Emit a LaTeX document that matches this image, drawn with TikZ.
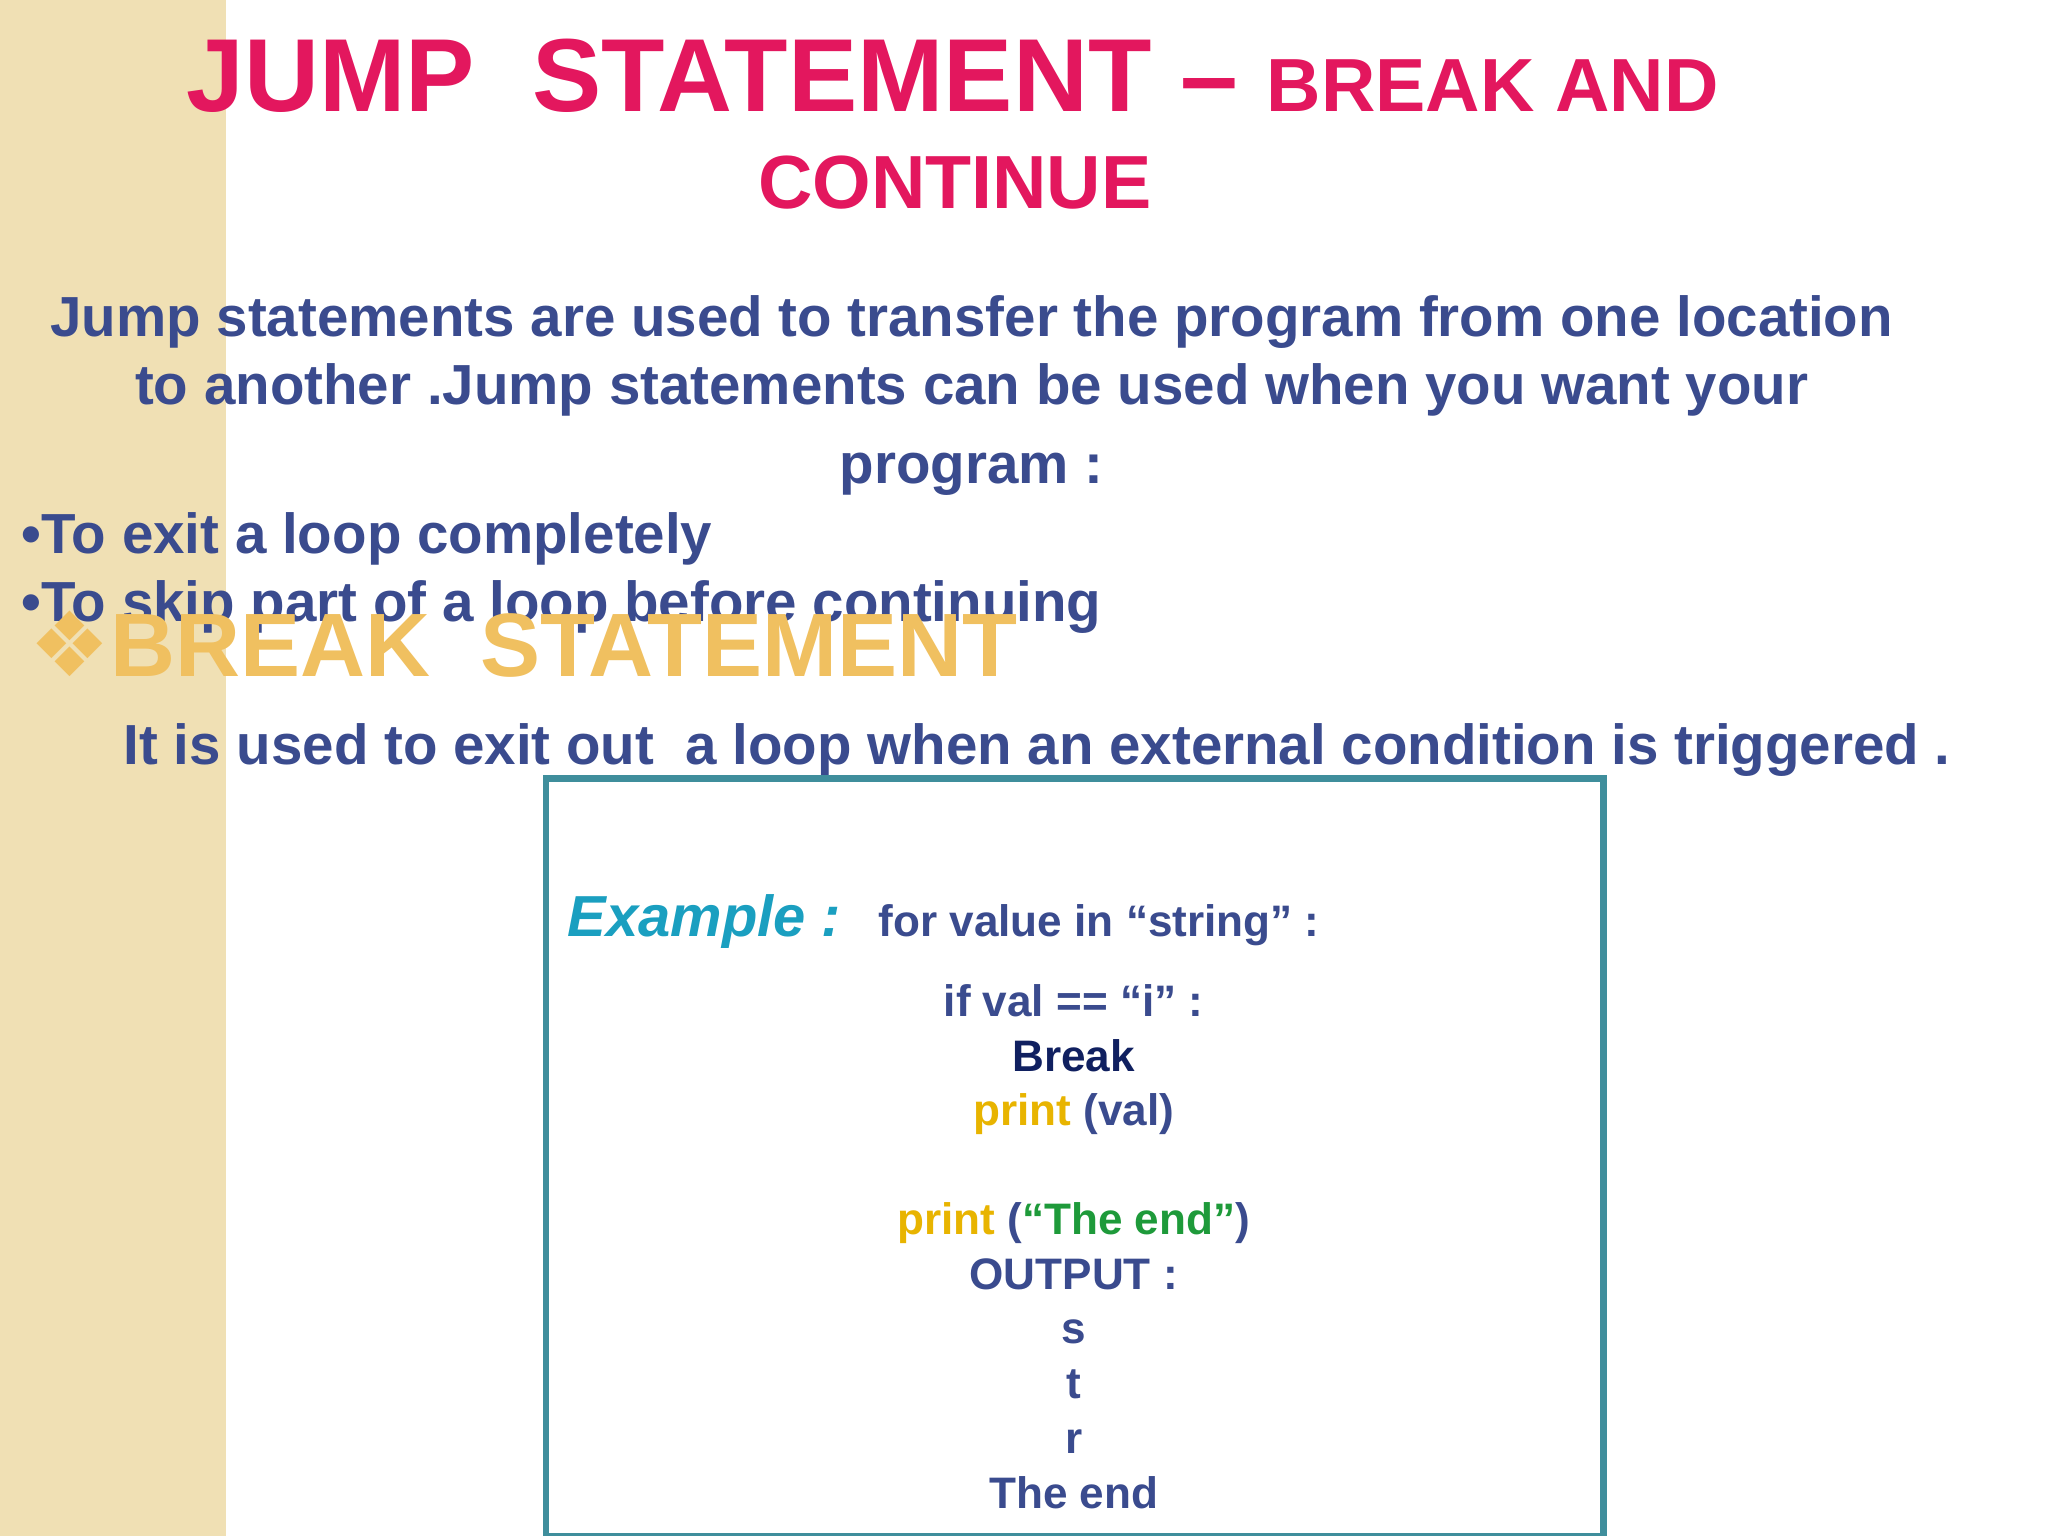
\documentclass[tikz,border=0pt]{standalone}
\usepackage{fontspec}
\setmainfont{Liberation Sans}
\newfontfamily\symf{DejaVu Sans}
\definecolor{titlec}{HTML}{E3175E}
\definecolor{bodyc}{HTML}{3A4B8E}
\definecolor{goldc}{HTML}{F0C060}
\definecolor{stripe}{HTML}{F0E0B4}
\definecolor{boxc}{HTML}{3F8E9C}
\definecolor{exc}{HTML}{1A9FC0}
\definecolor{printc}{HTML}{E8B400}
\definecolor{strc}{HTML}{1E9A3A}
\definecolor{navy}{HTML}{102060}
\begin{document}
\begin{tikzpicture}[x=0.01cm,y=-0.01cm,
  body/.style={font=\fontsize{12.3}{14}\selectfont\bfseries,text=bodyc,inner sep=0},
  code/.style={font=\fontsize{9.6}{11}\selectfont\bfseries,text=bodyc,inner sep=0}]
\useasboundingbox (0,0) rectangle (1568,1176);
\fill[white] (0,0) rectangle (1568,1176);
\fill[stripe] (0,0) rectangle (173,1176);
\node[inner sep=0,anchor=base west,text=titlec] (t1) at (142,85) {\fontsize{22.6}{26}\selectfont\bfseries JUMP\ \ STATEMENT -- {\fontsize{16.4}{20}\selectfont BREAK AND}};
\node[inner sep=0,anchor=base,text=titlec] (t2) at (731,160) {\fontsize{16.4}{20}\selectfont\bfseries CONTINUE};
\node[body,anchor=base] (p1) at (744,258) {Jump statements are used to transfer the program from one location};
\node[body,anchor=base] (p2) at (744,310) {to another .Jump statements can be used when you want your};
\node[body,anchor=base] (p3) at (744,370) {program :};
\node[body,anchor=base west] (b1) at (16,424) {•To exit a loop completely};
\node[body,anchor=base west] (b2) at (16,476) {•To skip part of a loop before continuing};
\node[inner sep=0,anchor=base west,text=goldc] (bs) at (22,518) {\fontsize{19.6}{23}\selectfont\bfseries{\symf ❖}BREAK\ \ STATEMENT};
\node[body,anchor=base west] (d) at (94,585) {It is used to exit out\ \ a loop when an external condition is triggered .};
\draw[boxc,line width=1.5pt] (418,596) rectangle (1228,1176);
\node[inner sep=0,anchor=base west,text=exc] (ex) at (434,717) {\fontsize{12.6}{15}\selectfont\bfseries\itshape Example :};
\node[code,anchor=base west] (c1) at (672,717) {for value in “string” :};
\node[code,anchor=base] (c2) at (822,778) {if val == “i” :};
\node[code,anchor=base,text=navy] (c3) at (822,820) {Break};
\node[code,anchor=base] (c4) at (822,862) {{\color{printc}print} (val)};
\node[code,anchor=base] (c5) at (822,945) {{\color{printc}print} ({\color{strc}“The end”})};
\node[code,anchor=base] (c6) at (822,987) {OUTPUT :};
\node[code,anchor=base] (c7) at (822,1029) {s};
\node[code,anchor=base] (c8) at (822,1071) {t};
\node[code,anchor=base] (c9) at (822,1113) {r};
\node[code,anchor=base] (c10) at (822,1155) {The end};
\end{tikzpicture}
\end{document}
